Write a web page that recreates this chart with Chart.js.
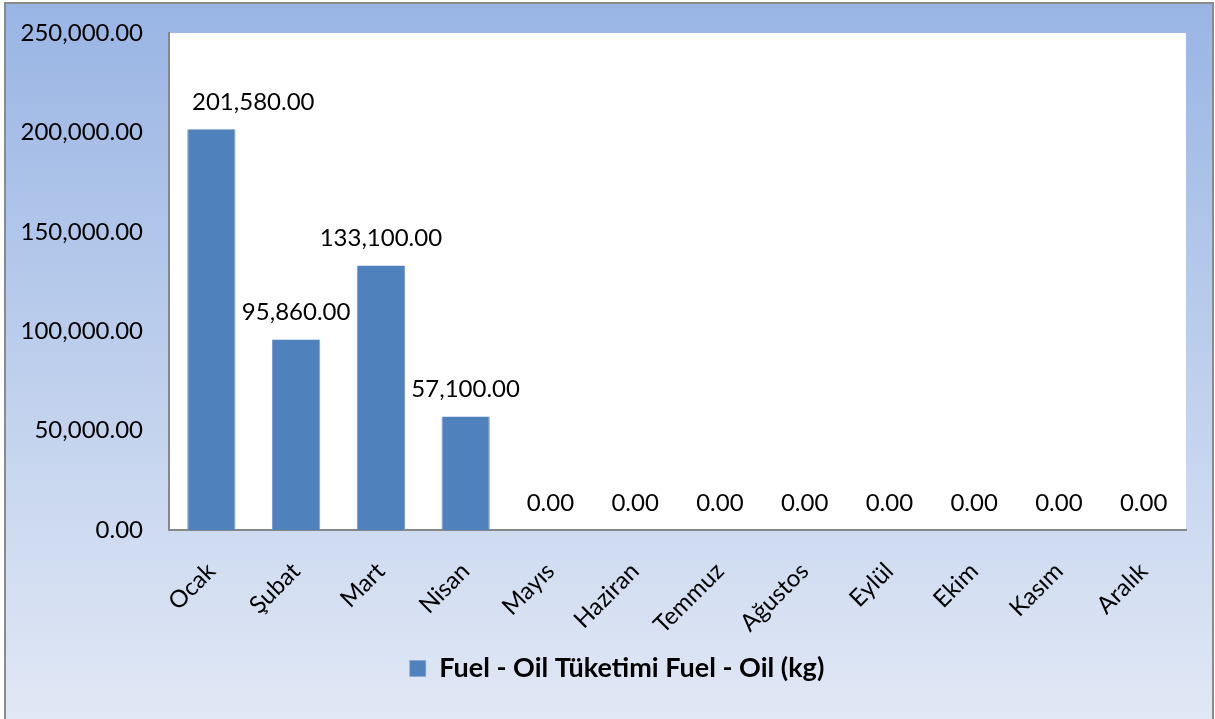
<!DOCTYPE html>
<html><head><meta charset="utf-8">
<script src="https://cdn.jsdelivr.net/npm/chart.js@4.4.0/dist/chart.umd.min.js"></script>
<style>html,body{margin:0;padding:0;background:#fff;overflow:hidden}canvas{display:block}</style>
</head><body>
<canvas id="c" width="1215" height="719"></canvas>
<script>
const categories = ["Ocak","Şubat","Mart","Nisan","Mayıs","Haziran","Temmuz","Ağustos","Eylül","Ekim","Kasım","Aralık"];
const values = [201580, 95860, 133100, 57100, 0, 0, 0, 0, 0, 0, 0, 0];
const seriesName = "Fuel - Oil Tüketimi Fuel - Oil (kg)";
const yMin = 0, yMax = 250000, yStep = 50000;

const FONT = "Lato";
const fmt = v => v.toLocaleString('en-US', {minimumFractionDigits: 2, maximumFractionDigits: 2});

const bgPlugin = {
  id: 'bg',
  beforeDraw(chart) {
    const ctx = chart.ctx, W = chart.width, H = chart.height;
    ctx.save();
    ctx.fillStyle = '#ffffff';
    ctx.fillRect(0, 0, W, H);
    const g = ctx.createLinearGradient(0, 3, 0, H);
    g.addColorStop(0, '#99b5e4');
    g.addColorStop(1, '#e1e8f5');
    ctx.fillStyle = g;
    ctx.fillRect(5, 3, 1208, H);
    ctx.strokeStyle = '#8a8a8a';
    ctx.lineWidth = 2;
    ctx.strokeRect(5, 3, 1208, H + 10);
    const a = chart.chartArea;
    ctx.fillStyle = '#ffffff';
    ctx.fillRect(a.left, a.top, a.right - a.left, a.bottom - a.top);
    ctx.restore();
  }
};

const legendShift = {
  id: 'legendShift',
  afterLayout(chart) {
    if (chart.legend) { chart.legend.left = 48; }
  }
};

const labelPlugin = {
  id: 'vlabels',
  afterDatasetsDraw(chart) {
    const ctx = chart.ctx;
    const a = chart.chartArea;
    const meta = chart.getDatasetMeta(0);
    ctx.save();
    ctx.font = '24px ' + FONT;
    ctx.fillStyle = '#000';
    ctx.textAlign = 'center';
    ctx.textBaseline = 'middle';
    meta.data.forEach((bar, i) => {
      const txt = fmt(values[i]);
      const w = ctx.measureText(txt).width;
      // keep the label inside the plot area, as the original does
      const x = Math.max(bar.x, a.left + 23 + w / 2);
      ctx.fillText(txt, x, bar.y - 27);
    });
    ctx.restore();
  }
};

new Chart(document.getElementById('c'), {
  type: 'bar',
  data: {
    labels: categories,
    datasets: [{
      label: seriesName,
      data: values,
      backgroundColor: '#4f81bd',
      borderColor: '#7d9fd0',
      borderWidth: {left: 1, right: 1, top: 0, bottom: 0},
      categoryPercentage: 0.57,
      barPercentage: 1.0
    }]
  },
  options: {
    responsive: false,
    animation: false,
    layout: {padding: {top: 33, right: 29, bottom: 27, left: 0}},
    plugins: {
      tooltip: {enabled: false},
      legend: {
        position: 'bottom',
        labels: {
          color: '#000',
          font: {family: FONT, size: 27, weight: 'bold'},
          boxWidth: 16, boxHeight: 16, padding: 10
        }
      }
    },
    scales: {
      x: {
        grid: {display: false, drawTicks: false},
        border: {display: true, color: '#878787', width: 2},
        ticks: {color: '#000', font: {family: FONT, size: 24}, maxRotation: 45, minRotation: 45, padding: 27},
        afterFit(s) { s.height = 115; }
      },
      y: {
        min: yMin, max: yMax,
        grid: {display: false, drawTicks: true, tickLength: 18},
        border: {display: true, color: '#878787', width: 2},
        ticks: {stepSize: yStep, color: '#000', font: {family: FONT, size: 24}, padding: 8, callback: v => fmt(v)},
        afterFit(s) { s.width = 169; }
      }
    }
  },
  plugins: [bgPlugin, legendShift, labelPlugin]
});
</script>
</body></html>
